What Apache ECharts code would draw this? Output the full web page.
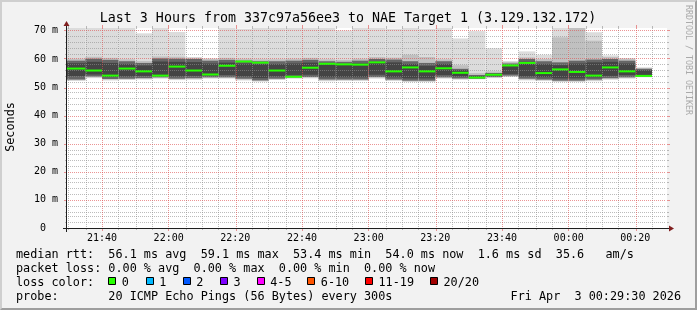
<!DOCTYPE html>
<html><head><meta charset="utf-8">
<script src="https://cdn.jsdelivr.net/npm/echarts@6/dist/echarts.min.js"></script>
<style>
html,body{margin:0;padding:0;background:#f2f2f2;}
#wrap{position:relative;width:697px;height:310px;}
#c{position:absolute;left:0;top:0;width:697px;height:310px;}
#frame{position:absolute;left:0;top:0;width:697px;height:310px;box-sizing:border-box;
 border-top:2px solid #cfcfcf;border-left:2px solid #cfcfcf;border-right:2px solid #9e9e9e;border-bottom:2px solid #9e9e9e;pointer-events:none;}
</style>
</head><body><div id="wrap"><div id="c"></div><div id="frame"></div></div>
<script>
// ---------- data ----------
const axisStart = '21:29:30';
const axisEnd = '00:29:30';
const barEnds = ['21:35','21:40','21:45','21:50','21:55','22:00','22:05','22:10','22:15','22:20',
 '22:25','22:30','22:35','22:40','22:45','22:50','22:55','23:00','23:05','23:10',
 '23:15','23:20','23:25','23:30','23:35','23:40','23:45','23:50','23:55','00:00',
 '00:05','00:10','00:15','00:20','00:25'];
const median = [56.6,55.9,54.1,56.6,55.6,54.1,57.3,55.9,54.5,57.6,
 59.1,58.7,55.9,53.7,56.9,58.3,58.1,58.0,58.8,55.6,
 57.0,55.6,56.7,55.1,53.4,54.4,57.7,58.6,55.0,56.3,
 55.4,54.1,57.0,55.6,54.0];
// outermost (lightest) smoke band
const smokeMin = [52.2,53.2,52.4,52.5,52.7,53.0,52.5,52.6,53.0,53.0,
 52.4,51.9,52.5,53.0,53.1,52.1,52.2,52.2,53.0,52.2,
 51.8,51.8,53.0,52.6,52.8,53.2,53.6,52.4,52.2,51.8,
 51.8,52.1,52.6,53.0,53.5];
const smokeMax = [71,71,71,71,69.1,71,69.6,60.7,60.3,71,
 70.7,71,71,71,71,71,70.1,71,71,70.7,
 71,70.7,71,67.3,69.9,63.8,59.2,62.7,61.5,71,
 71,69.5,61.3,60.3,56.9];
// second band
const band2Low = [52.5,53.5,52.7,52.8,53.0,53.3,52.8,52.9,53.3,53.3,
 52.7,52.2,52.8,53.3,53.4,52.4,52.5,52.5,53.3,52.5,
 52.1,52.1,53.3,52.9,53.0,53.4,53.8,52.7,52.5,52.1,
 52.1,52.4,52.9,53.3,53.7];
const band2High = [60.1,60.8,60.4,59.9,59.3,60.9,60.8,60.4,60.0,60.4,
 60.1,59.9,59.9,60.1,60.4,59.9,59.7,60.1,60.7,60.5,
 61.5,60.7,59.9,57.8,55.0,55.6,59.0,60.6,60.0,67.7,
 71.0,66.5,60.7,60.1,56.9];
// dark band
const band3Low = [52.7,53.8,52.9,53.0,53.2,53.5,53.0,53.2,53.5,53.5,
 53.0,52.4,53.0,53.5,53.6,52.7,52.7,52.7,53.6,52.7,
 52.3,52.3,53.5,53.1,53.0,53.6,54.1,53.0,52.7,52.3,
 52.3,52.7,53.2,53.5,53.8];
const band3High = [59.4,60.1,59.7,59.2,58.6,60.2,60.1,60.0,59.4,59.7,
 59.4,59.2,59.2,59.4,59.7,59.2,59.0,59.4,60.0,59.8,
 59.2,58.6,59.2,56.5,54.3,55.0,58.4,60.0,59.2,58.8,
 59.4,59.8,60.0,59.4,56.5];
// darkest core
const coreLow = [53.9,54.5,53.6,53.8,54.0,54.2,53.8,54.0,54.2,54.3,
 53.8,53.2,53.8,54.2,54.4,53.5,53.5,53.5,54.4,53.5,
 53.1,53.1,54.3,53.8,53.3,54.0,54.6,53.8,53.5,53.1,
 53.1,53.5,54.0,54.3,54.2];
const coreHigh = [58.5,59.0,58.6,58.2,57.7,59.1,59.0,58.9,58.4,58.7,
 58.4,58.2,58.2,58.4,58.7,58.2,58.0,58.4,59.0,58.8,
 58.2,57.6,58.2,56.0,54.0,54.8,57.8,59.0,58.2,57.8,
 58.4,58.8,59.0,58.4,56.0];
const xLabelTimes = ['21:40','22:00','22:20','22:40','23:00','23:20','23:40','00:00','00:20'];
const yLabelVals = [0,10,20,30,40,50,60,70];
const yMax = 71;
const title = 'Last 3 Hours from 337c97a56ee3 to NAE Target 1 (3.129.132.172)';
const rttLine = 'median rtt:  56.1 ms avg  59.1 ms max  53.4 ms min  54.0 ms now  1.6 ms sd  35.6   am/s';
const lossLine = 'packet loss: 0.00 % avg  0.00 % max  0.00 % min  0.00 % now';
const lossLabels = ['0','1','2','3','4-5','6-10','11-19','20/20'];
const lossColors = ['#26ff00','#00b8ff','#0059ff','#7e00ff','#ff00ff','#ff5500','#ff0000','#a10000'];
const probeLine = 'probe:       20 ICMP Echo Pings (56 Bytes) every 300s';
const dateText = 'Fri Apr  3 00:29:30 2026';

// ---------- helpers ----------
function toMin(s){
  const p = s.split(':').map(Number);
  let h = p[0]; if (h < 12) h += 24;
  return h*60 + p[1] + (p[2]||0)/60;
}
function fmt(m){
  const h = Math.floor(m/60)%24, mm = Math.round(m%60);
  return String(h).padStart(2,'0')+':'+String(mm).padStart(2,'0');
}
const xMin = toMin(axisStart), xMax = toMin(axisEnd);
const STEP = 5;
const xLabelVals = xLabelTimes.map(toMin);
const xMinorGrid = [];
for (let m = Math.ceil(xMin/STEP)*STEP; m <= xMax; m += STEP) {
  if (xLabelVals.indexOf(m) < 0) xMinorGrid.push(m);
}
const yMinorGrid = [];
for (let v = 2; v <= 70; v += 2) { if (v % 10 !== 0) yMinorGrid.push(v); }
const yMajorGrid = yLabelVals.filter(v => v > 0);

const smokeData = barEnds.map((t,i) => {
  const e = toMin(t); const s = i === 0 ? xMin : e - STEP;
  return [s, e, smokeMin[i], smokeMax[i], band2Low[i], band2High[i], band3Low[i], band3High[i], coreLow[i], coreHigh[i], median[i]];
});
const bandDefs = [[2,3,'#dcdcdc'],[4,5,'#c0c0c0'],[6,7,'#666666'],[8,9,'#444444']];

const MONO = '"DejaVu Sans Mono", monospace';
const FS = 11.8;

const graphics = [];
function txt(x, y, text, extra){
  graphics.push(Object.assign({type:'text', x, y, silent:true, z:10, style:{text, fill:'#000', font: FS+'px '+MONO, align:'left', verticalAlign:'middle'}}, extra||{}));
}
txt(348, 19, title, {style:{text:title, fill:'#000', font:'13.3px '+MONO, align:'center', verticalAlign:'middle'}});
txt(11, 127, 'Seconds', {rotation: Math.PI/2, style:{text:'Seconds', fill:'#000', font:FS+'px '+MONO, align:'center', verticalAlign:'middle'}});
txt(688, 60, 'RRDTOOL / TOBI OETIKER', {rotation: -Math.PI/2, style:{text:'RRDTOOL / TOBI OETIKER', fill:'#aaaaaa', font:'8.3px '+MONO, align:'center', verticalAlign:'middle'}});
const rowY = [254.5, 268.7, 282.9, 297.1];
txt(16, rowY[0], rttLine);
txt(16, rowY[1], lossLine);
txt(16, rowY[2], 'loss color:');
const boxX = [108.3, 145.7, 182.7, 220, 256.7, 307.3, 365, 430];
lossLabels.forEach((l,i)=>{
  graphics.push({type:'rect', silent:true, z:10, shape:{x:Math.round(boxX[i])+0.5, y:277.5, width:7, height:7}, style:{fill:lossColors[i], stroke:'#000', lineWidth:1}});
  txt(boxX[i]+13.5, rowY[2], l);
});
txt(16, rowY[3], probeLine);
txt(681, rowY[3], dateText, {style:{text:dateText, fill:'#000', font:FS+'px '+MONO, align:'right', verticalAlign:'middle'}});

const chart = echarts.init(document.getElementById('c'), null, {renderer:'canvas', width:697, height:310});
const option = {
  animation: false,
  backgroundColor: '#f2f2f2',
  grid: {left: 67, top: 28, width: 600, height: 200, show: true, backgroundColor: '#ffffff', borderWidth: 0, containLabel: false},
  xAxis: {
    type: 'value', min: xMin, max: xMax,
    axisLine: {show: false}, axisTick: {show: false},
    axisLabel: {customValues: xLabelVals, formatter: v => fmt(v), margin: 5, fontFamily: 'DejaVu Sans Mono', fontSize: 10, color: '#000'},
    splitLine: {show: false}
  },
  yAxis: {
    type: 'value', min: 0, max: yMax,
    axisLine: {show: false}, axisTick: {show: false},
    axisLabel: {customValues: yLabelVals, formatter: v => v === 0 ? '0\u00a0\u00a0' : v + ' m', margin: 9, fontFamily: 'DejaVu Sans Mono', fontSize: 10, color: '#000'},
    splitLine: {show: false}
  },
  graphic: graphics,
  series: [
    {
      type: 'custom', z: 2, silent: true, clip: true,
      data: smokeData,
      encode: {x: [0,1], y: [2,3]},
      renderItem: function(params, api){
        const s = api.value(0), e = api.value(1);
        const children = bandDefs.map(([a,b,c]) => {
          const p1 = api.coord([s, api.value(b)]);
          const p2 = api.coord([e, api.value(a)]);
          return {type:'rect', shape:{x:p1[0], y:p1[1], width:p2[0]-p1[0], height:p2[1]-p1[1]}, style:{fill:c}};
        });
        return {type:'group', children};
      }
    },
    {
      type: 'custom', z: 5, silent: true, clip: true,
      data: smokeData.map(d => [d[0], d[1], d[10]]),
      encode: {x: [0,1], y: 2},
      renderItem: function(params, api){
        const p1 = api.coord([api.value(0), api.value(2)]);
        const p2 = api.coord([api.value(1), api.value(2)]);
        return {type:'rect', shape:{x:p1[0], y:p1[1]-1, width:p2[0]-p1[0], height:2}, style:{fill:'#26ff00'}};
      }
    }
  ]
};
chart.setOption(option);

// grid, ticks, axes and arrows (rrdtool style), positioned through the chart's own scales
const extra = [];
const GREY = 'rgba(143,143,143,0.6)', RED = 'rgba(222,79,79,0.6)', AXIS = '#1f1f1f', ARROW = '#801f1f';
const P = (x, y) => chart.convertToPixel({gridIndex:0}, [x, y]);
const O = P(xMin, 0), E = P(xMax, yMax);
const X0 = O[0], Y0 = O[1], X1 = E[0], Y1 = E[1];
const even = p => 2 * Math.round(p / 2) + 0.5;
function seg(x1, y1, x2, y2, color, dash, z){
  extra.push({type:'line', silent:true, z: z||3, shape:{x1, y1, x2, y2}, style:{stroke:color, lineWidth:1, lineDash: dash ? [1,1] : null}});
}
function hLine(v, color, t){
  const y = even(P(xMin, v)[1]);
  seg(X0 + 1, y, X1 - 1, y, color, true);
  seg(X0 - t, y, X0, y, color, false);
  seg(X1, y, X1 + t, y, color, false);
}
function vLine(v, color, t){
  const x = even(P(v, 0)[0]);
  seg(x, Y1, x, Y0 - 1, color, true);
  seg(x, Y0, x, Y0 + t, color, false);
  seg(x, Y1 - t, x, Y1, color, false);
}
yMinorGrid.forEach(v => hLine(v, GREY, 2));
xMinorGrid.forEach(v => vLine(v, GREY, 2));
yMajorGrid.forEach(v => hLine(v, RED, 3));
xLabelVals.forEach(v => vLine(v, RED, 3));

const ax = Math.round(Y0) + 0.5, lx = Math.round(X0) - 0.5;
seg(X0 - 4, ax, X1 + 4, ax, AXIS, false, 8);
seg(lx, Y0 + 4, lx, Y1 - 4, AXIS, false, 8);
extra.push(
  {type:'polygon', silent:true, z:9, shape:{points:[[X1+2, ax-3],[X1+7, ax],[X1+2, ax+3]]}, style:{fill:ARROW}},
  {type:'polygon', silent:true, z:9, shape:{points:[[lx-3, Y1-2],[lx, Y1-7],[lx+3, Y1-2]]}, style:{fill:ARROW}}
);
chart.setOption({graphic: graphics.concat(extra)});
</script>
</body></html>
